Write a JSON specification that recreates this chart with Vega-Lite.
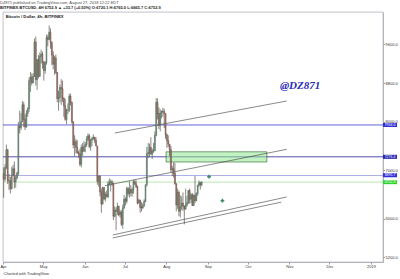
{
 "$schema": "https://vega.github.io/schema/vega-lite/v6.json",
 "width": 380, "height": 250,
 "autosize": {"type": "none"},
 "padding": {"left": 3, "top": 12, "right": 17, "bottom": 17},
 "background": "white",
 "config": {"font": "Liberation Sans", "view": {"stroke": "#9598a1", "strokeWidth": 0.6}},
 "title": {"text": "DZ871 published on TradingView.com, August 27, 2018 12:22 EDT", "subtitle": "BITFINEX:BTCUSD, 4H  6752.9 ▲ +33.7 (+0.50%)  O:6720.1 H:6765.0 L:6665.7 C:6752.9", "anchor": "start", "frame": "group", "fontSize": 4, "subtitleFontSize": 4, "fontWeight": "normal", "color": "#4a4a4a", "subtitleColor": "#222222", "subtitleFontWeight": "bold", "offset": 2, "subtitlePadding": 1.5, "dx": -3},
 "datasets": {
  "candles": [
   {"d":"2018-04-01","o":6926,"h":7060,"l":6430,"c":6813},
   {"d":"2018-04-02","o":6813,"h":7125,"l":6765,"c":7056},
   {"d":"2018-04-03","o":7056,"h":7530,"l":7020,"c":7420},
   {"d":"2018-04-04","o":7420,"h":7440,"l":6711,"c":6785},
   {"d":"2018-04-05","o":6785,"h":6925,"l":6590,"c":6775},
   {"d":"2018-04-06","o":6775,"h":6860,"l":6520,"c":6620},
   {"d":"2018-04-07","o":6620,"h":7070,"l":6600,"c":6900},
   {"d":"2018-04-08","o":6900,"h":7110,"l":6880,"c":7030},
   {"d":"2018-04-09","o":7030,"h":7180,"l":6620,"c":6760},
   {"d":"2018-04-10","o":6760,"h":6890,"l":6640,"c":6840},
   {"d":"2018-04-11","o":6840,"h":6970,"l":6810,"c":6940},
   {"d":"2018-04-12","o":6940,"h":8000,"l":6890,"c":7900},
   {"d":"2018-04-13","o":7900,"h":8230,"l":7760,"c":7880},
   {"d":"2018-04-14","o":7880,"h":8180,"l":7830,"c":8000},
   {"d":"2018-04-15","o":8000,"h":8430,"l":8000,"c":8350},
   {"d":"2018-04-16","o":8350,"h":8410,"l":7890,"c":8050},
   {"d":"2018-04-17","o":8050,"h":8150,"l":7830,"c":7890},
   {"d":"2018-04-18","o":7890,"h":8240,"l":7880,"c":8170},
   {"d":"2018-04-19","o":8170,"h":8300,"l":8100,"c":8270},
   {"d":"2018-04-20","o":8270,"h":8920,"l":8200,"c":8850},
   {"d":"2018-04-21","o":8850,"h":9030,"l":8620,"c":8920},
   {"d":"2018-04-22","o":8920,"h":9000,"l":8750,"c":8800},
   {"d":"2018-04-23","o":8800,"h":9000,"l":8800,"c":8940},
   {"d":"2018-04-24","o":8940,"h":9720,"l":8930,"c":9650},
   {"d":"2018-04-25","o":9650,"h":9760,"l":8750,"c":8870},
   {"d":"2018-04-26","o":8870,"h":9300,"l":8660,"c":9280},
   {"d":"2018-04-27","o":9280,"h":9380,"l":8900,"c":8940},
   {"d":"2018-04-28","o":8940,"h":9430,"l":8930,"c":9350},
   {"d":"2018-04-29","o":9350,"h":9490,"l":9200,"c":9400},
   {"d":"2018-04-30","o":9400,"h":9450,"l":9100,"c":9240},
   {"d":"2018-05-01","o":9240,"h":9250,"l":8850,"c":9060},
   {"d":"2018-05-02","o":9060,"h":9250,"l":8990,"c":9220},
   {"d":"2018-05-03","o":9220,"h":9800,"l":9180,"c":9740},
   {"d":"2018-05-04","o":9740,"h":9800,"l":9560,"c":9700},
   {"d":"2018-05-05","o":9700,"h":9990,"l":9700,"c":9850},
   {"d":"2018-05-06","o":9850,"h":9930,"l":9510,"c":9640},
   {"d":"2018-05-07","o":9640,"h":9660,"l":9170,"c":9380},
   {"d":"2018-05-08","o":9380,"h":9460,"l":9080,"c":9190},
   {"d":"2018-05-09","o":9190,"h":9360,"l":8970,"c":9320},
   {"d":"2018-05-10","o":9320,"h":9390,"l":8990,"c":9020},
   {"d":"2018-05-11","o":9020,"h":9030,"l":8400,"c":8480},
   {"d":"2018-05-12","o":8480,"h":8640,"l":8230,"c":8500},
   {"d":"2018-05-13","o":8500,"h":8770,"l":8400,"c":8710},
   {"d":"2018-05-14","o":8710,"h":8880,"l":8350,"c":8680},
   {"d":"2018-05-15","o":8680,"h":8850,"l":8410,"c":8490},
   {"d":"2018-05-16","o":8490,"h":8500,"l":8100,"c":8330},
   {"d":"2018-05-17","o":8330,"h":8470,"l":8020,"c":8050},
   {"d":"2018-05-18","o":8050,"h":8270,"l":7950,"c":8240},
   {"d":"2018-05-19","o":8240,"h":8380,"l":8160,"c":8240},
   {"d":"2018-05-20","o":8240,"h":8580,"l":8200,"c":8530},
   {"d":"2018-05-21","o":8530,"h":8580,"l":8340,"c":8400},
   {"d":"2018-05-22","o":8400,"h":8420,"l":7960,"c":8000},
   {"d":"2018-05-23","o":8000,"h":8010,"l":7450,"c":7520},
   {"d":"2018-05-24","o":7520,"h":7720,"l":7290,"c":7590},
   {"d":"2018-05-25","o":7590,"h":7650,"l":7350,"c":7470},
   {"d":"2018-05-26","o":7470,"h":7620,"l":7340,"c":7360},
   {"d":"2018-05-27","o":7360,"h":7400,"l":7260,"c":7340},
   {"d":"2018-05-28","o":7340,"h":7440,"l":7080,"c":7120},
   {"d":"2018-05-29","o":7120,"h":7530,"l":7060,"c":7470},
   {"d":"2018-05-30","o":7470,"h":7560,"l":7300,"c":7390},
   {"d":"2018-05-31","o":7390,"h":7600,"l":7380,"c":7490},
   {"d":"2018-06-01","o":7490,"h":7580,"l":7370,"c":7530},
   {"d":"2018-06-02","o":7530,"h":7700,"l":7480,"c":7640},
   {"d":"2018-06-03","o":7640,"h":7760,"l":7600,"c":7710},
   {"d":"2018-06-04","o":7710,"h":7750,"l":7450,"c":7490},
   {"d":"2018-06-05","o":7490,"h":7650,"l":7400,"c":7620},
   {"d":"2018-06-06","o":7620,"h":7690,"l":7500,"c":7650},
   {"d":"2018-06-07","o":7650,"h":7740,"l":7630,"c":7680},
   {"d":"2018-06-08","o":7680,"h":7690,"l":7560,"c":7620},
   {"d":"2018-06-09","o":7620,"h":7680,"l":7500,"c":7500},
   {"d":"2018-06-10","o":7500,"h":7500,"l":6700,"c":6770},
   {"d":"2018-06-11","o":6770,"h":6890,"l":6660,"c":6880},
   {"d":"2018-06-12","o":6880,"h":6890,"l":6460,"c":6550},
   {"d":"2018-06-13","o":6550,"h":6620,"l":6120,"c":6300},
   {"d":"2018-06-14","o":6300,"h":6660,"l":6290,"c":6640},
   {"d":"2018-06-15","o":6640,"h":6650,"l":6400,"c":6400},
   {"d":"2018-06-16","o":6400,"h":6550,"l":6350,"c":6500},
   {"d":"2018-06-17","o":6500,"h":6580,"l":6440,"c":6450},
   {"d":"2018-06-18","o":6450,"h":6780,"l":6420,"c":6720},
   {"d":"2018-06-19","o":6720,"h":6830,"l":6680,"c":6750},
   {"d":"2018-06-20","o":6750,"h":6810,"l":6560,"c":6760},
   {"d":"2018-06-21","o":6760,"h":6790,"l":6670,"c":6720},
   {"d":"2018-06-22","o":6720,"h":6740,"l":5970,"c":6050},
   {"d":"2018-06-23","o":6050,"h":6250,"l":6030,"c":6170},
   {"d":"2018-06-24","o":6170,"h":6230,"l":5760,"c":6150},
   {"d":"2018-06-25","o":6150,"h":6330,"l":6070,"c":6250},
   {"d":"2018-06-26","o":6250,"h":6270,"l":6050,"c":6080},
   {"d":"2018-06-27","o":6080,"h":6180,"l":6020,"c":6130},
   {"d":"2018-06-28","o":6130,"h":6170,"l":5850,"c":5880},
   {"d":"2018-06-29","o":5880,"h":6290,"l":5790,"c":6220},
   {"d":"2018-06-30","o":6220,"h":6490,"l":6200,"c":6400},
   {"d":"2018-07-01","o":6400,"h":6440,"l":6270,"c":6360},
   {"d":"2018-07-02","o":6360,"h":6660,"l":6310,"c":6620},
   {"d":"2018-07-03","o":6620,"h":6650,"l":6470,"c":6520},
   {"d":"2018-07-04","o":6520,"h":6770,"l":6430,"c":6600},
   {"d":"2018-07-05","o":6600,"h":6690,"l":6460,"c":6530},
   {"d":"2018-07-06","o":6530,"h":6640,"l":6450,"c":6600},
   {"d":"2018-07-07","o":6600,"h":6800,"l":6510,"c":6760},
   {"d":"2018-07-08","o":6760,"h":6800,"l":6690,"c":6720},
   {"d":"2018-07-09","o":6720,"h":6790,"l":6630,"c":6660},
   {"d":"2018-07-10","o":6660,"h":6680,"l":6290,"c":6320},
   {"d":"2018-07-11","o":6320,"h":6410,"l":6310,"c":6380},
   {"d":"2018-07-12","o":6380,"h":6390,"l":6120,"c":6230},
   {"d":"2018-07-13","o":6230,"h":6340,"l":6150,"c":6220},
   {"d":"2018-07-14","o":6220,"h":6320,"l":6200,"c":6270},
   {"d":"2018-07-15","o":6270,"h":6400,"l":6240,"c":6360},
   {"d":"2018-07-16","o":6360,"h":6700,"l":6340,"c":6700},
   {"d":"2018-07-17","o":6700,"h":7480,"l":6660,"c":7340},
   {"d":"2018-07-18","o":7340,"h":7560,"l":7250,"c":7370},
   {"d":"2018-07-19","o":7370,"h":7550,"l":7270,"c":7470},
   {"d":"2018-07-20","o":7470,"h":7680,"l":7320,"c":7330},
   {"d":"2018-07-21","o":7330,"h":7450,"l":7230,"c":7400},
   {"d":"2018-07-22","o":7400,"h":7560,"l":7360,"c":7400},
   {"d":"2018-07-23","o":7400,"h":7800,"l":7390,"c":7720},
   {"d":"2018-07-24","o":7720,"h":8490,"l":7700,"c":8400},
   {"d":"2018-07-25","o":8400,"h":8480,"l":8050,"c":8170},
   {"d":"2018-07-26","o":8170,"h":8300,"l":7850,"c":7930},
   {"d":"2018-07-27","o":7930,"h":8260,"l":7800,"c":8180},
   {"d":"2018-07-28","o":8180,"h":8230,"l":8070,"c":8220},
   {"d":"2018-07-29","o":8220,"h":8290,"l":8100,"c":8210},
   {"d":"2018-07-30","o":8210,"h":8270,"l":7870,"c":8170},
   {"d":"2018-07-31","o":8170,"h":8170,"l":7650,"c":7730},
   {"d":"2018-08-01","o":7730,"h":7760,"l":7460,"c":7610},
   {"d":"2018-08-02","o":7610,"h":7720,"l":7480,"c":7540},
   {"d":"2018-08-03","o":7540,"h":7540,"l":7290,"c":7420},
   {"d":"2018-08-04","o":7420,"h":7500,"l":6960,"c":7010},
   {"d":"2018-08-05","o":7010,"h":7090,"l":6880,"c":7030},
   {"d":"2018-08-06","o":7030,"h":7160,"l":6850,"c":6940},
   {"d":"2018-08-07","o":6940,"h":7150,"l":6700,"c":6720},
   {"d":"2018-08-08","o":6720,"h":6730,"l":6150,"c":6280},
   {"d":"2018-08-09","o":6280,"h":6620,"l":6200,"c":6540},
   {"d":"2018-08-10","o":6540,"h":6580,"l":6050,"c":6150},
   {"d":"2018-08-11","o":6150,"h":6480,"l":6020,"c":6240},
   {"d":"2018-08-12","o":6240,"h":6460,"l":6180,"c":6320},
   {"d":"2018-08-13","o":6320,"h":6540,"l":6160,"c":6260},
   {"d":"2018-08-14","o":6260,"h":6270,"l":5880,"c":6200},
   {"d":"2018-08-15","o":6200,"h":6620,"l":6180,"c":6280},
   {"d":"2018-08-16","o":6280,"h":6470,"l":6240,"c":6330},
   {"d":"2018-08-17","o":6330,"h":6580,"l":6300,"c":6580},
   {"d":"2018-08-18","o":6580,"h":6620,"l":6310,"c":6400},
   {"d":"2018-08-19","o":6400,"h":6530,"l":6320,"c":6490},
   {"d":"2018-08-20","o":6490,"h":6530,"l":6260,"c":6270},
   {"d":"2018-08-21","o":6270,"h":6500,"l":6260,"c":6480},
   {"d":"2018-08-22","o":6480,"h":6880,"l":6320,"c":6370},
   {"d":"2018-08-23","o":6370,"h":6540,"l":6360,"c":6520},
   {"d":"2018-08-24","o":6520,"h":6700,"l":6470,"c":6690},
   {"d":"2018-08-25","o":6690,"h":6790,"l":6660,"c":6740},
   {"d":"2018-08-26","o":6740,"h":6760,"l":6600,"c":6700},
   {"d":"2018-08-27","o":6700,"h":6770,"l":6665,"c":6753}
  ],
  "hlines": [
   {"p": 7934, "col": "#3b3bd0"},
   {"p": 7276, "col": "#25259a"},
   {"p": 6890, "col": "#9a9ae0"},
   {"p": 6752.9, "col": "#a6e3a0"}
  ],
  "trend": [
   {"t1": "2018-06-23T14:00:00Z", "p1": 7768, "t2": "2018-10-30T00:00:00Z", "p2": 8429},
   {"t1": "2018-06-16T00:00:00Z", "p1": 6679, "t2": "2018-10-30T00:00:00Z", "p2": 7431},
   {"t1": "2018-06-22T00:00:00Z", "p1": 5661, "t2": "2018-10-30T00:00:00Z", "p2": 6446},
   {"t1": "2018-06-22T00:00:00Z", "p1": 5600, "t2": "2018-10-26T00:00:00Z", "p2": 6340}
  ],
  "zone": [
   {"t1": "2018-07-31T21:00:00Z", "t2": "2018-10-15T05:00:00Z", "p1": 7380, "p2": 7169}
  ],
  "marks": [
   {"t": "2018-09-02T00:00:00Z", "p": 6865},
   {"t": "2018-09-12T00:00:00Z", "p": 6370}
  ],
  "tags": [
   {"p": 7934, "label": "7934.0", "bg": "#2f2fd8", "fg": "#ffffff"},
   {"p": 7276, "label": "7276.4", "bg": "#2727b0", "fg": "#ffffff"},
   {"p": 6895.7, "label": "6895.7", "bg": "#2f2fd8", "fg": "#ffffff"},
   {"p": 6752.9, "label": "6752.9", "bg": "#2fd52f", "fg": "#ffffff"}
  ]
 },
 "layer": [
  {
   "data": {"name": "hlines"},
   "mark": {"type": "rule", "strokeWidth": 0.8},
   "encoding": {
    "y": {"field": "p", "type": "quantitative", "scale": {"domain": [5103, 10268], "zero": false, "nice": false},
     "axis": {"orient": "right", "values": [5200,5400,5600,5800,6000,6200,6400,6600,7000,7400,7600,7800,8000,8200,8400,8600,8800,9000,9200,9400,9600,9800,10000,10200], "format": ".1f", "labelFontSize": 4, "labelColor": "#333333", "labelOverlap": false, "labelBound": false, "tickSize": 1.5, "tickColor": "#9598a1", "labelPadding": 0.5, "domainColor": "#9598a1", "domainWidth": 0.6, "grid": false, "title": null}},
    "color": {"field": "col", "type": "nominal", "scale": null}
   }
  },
  {
   "data": {"name": "zone"},
   "mark": {"type": "rect", "fill": "#8fe58f", "fillOpacity": 0.55, "stroke": "#2f5f2f", "strokeWidth": 0.6},
   "encoding": {
    "x": {"field": "t1", "type": "temporal", "scale": {"type": "utc", "domain": [{"year": 2018, "month": 4, "date": 1, "utc": true}, {"year": 2019, "month": 1, "date": 10, "utc": true}]},
     "axis": {"values": [{"year":2018,"month":4,"date":1,"utc":true},{"year":2018,"month":5,"date":1,"utc":true},{"year":2018,"month":6,"date":1,"utc":true},{"year":2018,"month":7,"date":1,"utc":true},{"year":2018,"month":8,"date":1,"utc":true},{"year":2018,"month":9,"date":1,"utc":true},{"year":2018,"month":10,"date":1,"utc":true},{"year":2018,"month":11,"date":1,"utc":true},{"year":2018,"month":12,"date":1,"utc":true},{"year":2019,"month":1,"date":1,"utc":true}],
      "labelExpr": "utcFormat(datum.value, '%m') == '01' ? utcFormat(datum.value, '%Y') : utcFormat(datum.value, '%b')",
      "labelFontSize": 4, "labelColor": "#333333", "labelOverlap": false, "tickSize": 2, "tickColor": "#9598a1", "labelPadding": 0.5, "domainColor": "#9598a1", "domainWidth": 0.6, "grid": false, "labelFlush": false,
      "title": "Charted with  TradingView", "titleFontSize": 4, "titleFontWeight": "normal", "titleColor": "#333333", "titleAnchor": "start", "titlePadding": 3}},
    "x2": {"field": "t2"},
    "y": {"field": "p1", "type": "quantitative"},
    "y2": {"field": "p2"}
   }
  },
  {
   "data": {"name": "trend"},
   "mark": {"type": "rule", "color": "#3a3a3a", "strokeWidth": 0.6},
   "encoding": {
    "x": {"field": "t1", "type": "temporal"},
    "x2": {"field": "t2"},
    "y": {"field": "p1", "type": "quantitative"},
    "y2": {"field": "p2"}
   }
  },
  {
   "data": {"name": "candles"},
   "mark": {"type": "rule", "strokeWidth": 0.7},
   "encoding": {
    "x": {"field": "d", "type": "temporal", "timeUnit": "utcyearmonthdate", "bandPosition": 0.5},
    "y": {"field": "l", "type": "quantitative"},
    "y2": {"field": "h"},
    "color": {"condition": {"test": "datum.c >= datum.o", "value": "#4a5f52"}, "value": "#5f4a46"}
   }
  },
  {
   "data": {"name": "candles"},
   "mark": {"type": "bar", "size": 1.1, "strokeWidth": 0.3},
   "encoding": {
    "x": {"field": "d", "type": "temporal", "timeUnit": "utcyearmonthdate", "bandPosition": 0.5},
    "y": {"field": "o", "type": "quantitative"},
    "y2": {"field": "c"},
    "color": {"condition": {"test": "datum.c >= datum.o", "value": "#7e9c88"}, "value": "#a98272"},
    "stroke": {"condition": {"test": "datum.c >= datum.o", "value": "#2f4a3a"}, "value": "#4e2a22"}
   }
  },
  {
   "data": {"name": "marks"},
   "mark": {"type": "point", "shape": "cross", "filled": true, "size": 14, "color": "#3d8a63", "opacity": 1},
   "encoding": {
    "x": {"field": "t", "type": "temporal"},
    "y": {"field": "p", "type": "quantitative"}
   }
  },
  {
   "data": {"values": [{"t": "2018-04-03T00:00:00Z", "p": 10170, "txt": "Bitcoin / Dollar, 4h, BITFINEX"}]},
   "mark": {"type": "text", "align": "left", "baseline": "middle", "fontSize": 4.2, "fontWeight": "bold", "color": "#222222"},
   "encoding": {
    "x": {"field": "t", "type": "temporal"},
    "y": {"field": "p", "type": "quantitative"},
    "text": {"field": "txt"}
   }
  },
  {
   "data": {"values": [{"t": "2018-11-09T00:00:00Z", "p": 8747, "txt": "@DZ871"}]},
   "mark": {"type": "text", "align": "center", "baseline": "middle", "fontSize": 11, "fontWeight": "bold", "fontStyle": "italic", "font": "Liberation Serif", "color": "#2a2ab8"},
   "encoding": {
    "x": {"field": "t", "type": "temporal"},
    "y": {"field": "p", "type": "quantitative"},
    "text": {"field": "txt"}
   }
  },
  {
   "data": {"name": "tags"},
   "transform": [{"calculate": "datum.p - 42", "as": "lo"}, {"calculate": "datum.p + 42", "as": "hi"}],
   "mark": {"type": "rect", "clip": false},
   "encoding": {
    "x": {"datum": {"year": 2019, "month": 1, "date": 10, "utc": true}, "type": "temporal"},
    "x2": {"datum": {"year": 2019, "month": 1, "date": 20, "hours": 12, "utc": true}},
    "y": {"field": "lo", "type": "quantitative"},
    "y2": {"field": "hi"},
    "color": {"field": "bg", "type": "nominal", "scale": null}
   }
  },
  {
   "data": {"name": "tags"},
   "mark": {"type": "text", "clip": false, "fontSize": 3.5, "align": "center", "baseline": "middle"},
   "encoding": {
    "x": {"datum": {"year": 2019, "month": 1, "date": 15, "hours": 6, "utc": true}, "type": "temporal"},
    "y": {"field": "p", "type": "quantitative"},
    "text": {"field": "label"},
    "color": {"field": "fg", "type": "nominal", "scale": null}
   }
  }
 ]
}
